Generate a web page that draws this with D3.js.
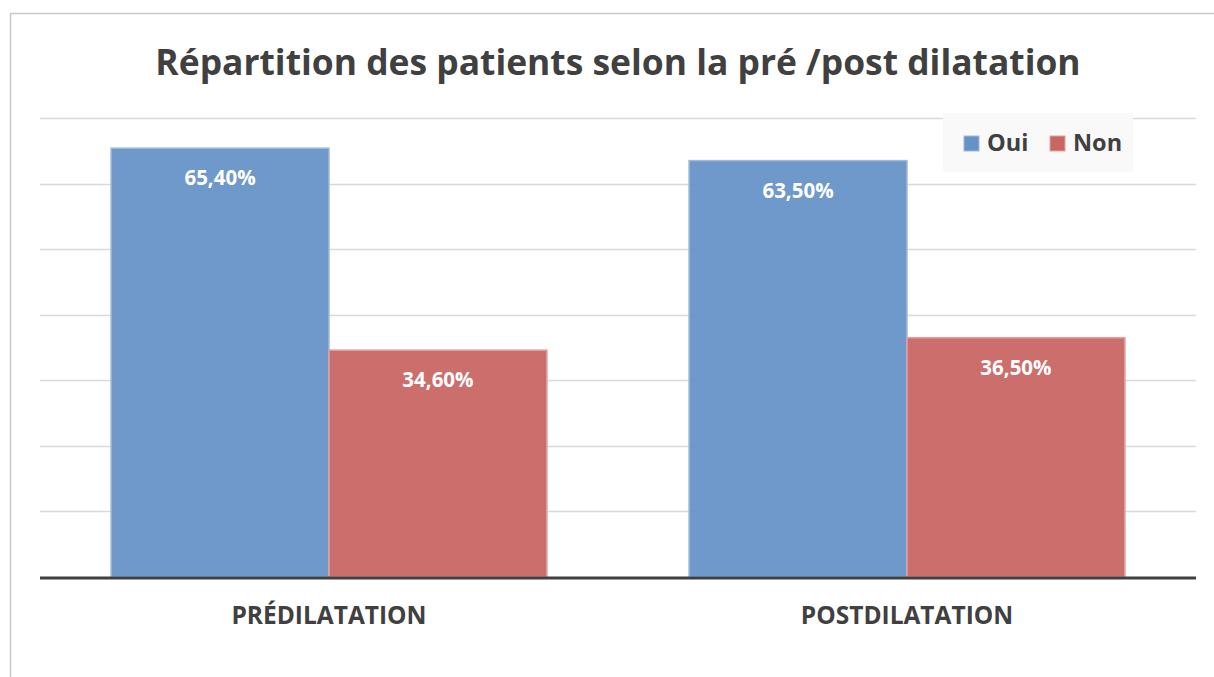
<html>
<head>
    <script src="https://cdnjs.cloudflare.com/ajax/libs/d3/7.8.5/d3.min.js"></script>
    <style>
        body { margin: 0; background: #fff; }
    </style>
</head>
<body>
    <script>
        const categories = ['PRÉDILATATION', 'POSTDILATATION'];
        const series = ['Oui', 'Non'];
        const ouiValues = [65.4, 63.5];
        const nonValues = [34.6, 36.5];
        const labels = [['65,40%', '63,50%'], ['34,60%', '36,50%']];
        const gridTicks = [0, 10, 20, 30, 40, 50, 60, 70];
        const colors = ['#6792c8', '#c96664'];

        const width = 1214, height = 677;
        const plot = { left: 40, right: 1196, top: 118, bottom: 577 };
        const font = "'Open Sans', 'Noto Sans', sans-serif";

        const svg = d3.select('body').append('svg')
            .attr('width', width)
            .attr('height', height);

        // outer frame (only left and top visible)
        svg.append('path')
            .attr('d', `M10.5,${height} L10.5,13.5 L${width},13.5`)
            .attr('fill', 'none')
            .attr('stroke', '#c8c8c8')
            .attr('stroke-width', 1.5);

        svg.append('text')
            .text('Répartition des patients selon la pré /post dilatation')
            .attr('x', 618)
            .attr('y', 75)
            .attr('text-anchor', 'middle')
            .attr('font-family', font)
            .attr('font-weight', 'bold')
            .attr('font-size', 35.4)
            .attr('fill', '#404040');

        const y = d3.scaleLinear().domain([0, 70]).range([plot.bottom, plot.top]);
        const x0 = d3.scaleBand().domain(categories).range([plot.left, plot.right]).paddingInner(0).paddingOuter(0);
        const x1 = d3.scaleBand().domain(series).range([0, x0.bandwidth()]).paddingOuter(0.326);

        // gridlines
        svg.append('g').selectAll('line')
            .data(gridTicks.slice(1))
            .enter().append('line')
            .attr('x1', plot.left).attr('x2', plot.right)
            .attr('y1', d => Math.round(y(d)) + 0.5).attr('y2', d => Math.round(y(d)) + 0.5)
            .attr('stroke', '#d9d9d9')
            .attr('stroke-width', 1.5);

        const data = [ouiValues, nonValues];
        const groups = svg.append('g').selectAll('g')
            .data(series)
            .enter().append('g');

        groups.each(function (s, si) {
            const g = d3.select(this);
            g.selectAll('rect')
                .data(categories)
                .enter().append('rect')
                .attr('x', c => x0(c) + x1(s))
                .attr('y', (c, ci) => y(data[si][ci]))
                .attr('width', x1.bandwidth())
                .attr('height', (c, ci) => plot.bottom - y(data[si][ci]))
                .attr('fill', colors[si])
                .attr('fill-opacity', 0.95)
                .attr('stroke', si === 0 ? '#9dbae0' : '#e0a3a2')
                .attr('stroke-width', 1.5);
            g.selectAll('text')
                .data(categories)
                .enter().append('text')
                .text((c, ci) => labels[si][ci])
                .attr('x', c => x0(c) + x1(s) + x1.bandwidth() / 2)
                .attr('y', (c, ci) => y(data[si][ci]) + 37)
                .attr('text-anchor', 'middle')
                .attr('font-family', font)
                .attr('font-weight', 'bold')
                .attr('font-size', 20.5)
                .attr('fill', '#fff');
        });

        // baseline
        svg.append('line')
            .attr('x1', plot.left).attr('x2', plot.right)
            .attr('y1', plot.bottom + 1).attr('y2', plot.bottom + 1)
            .attr('stroke', '#404040')
            .attr('stroke-width', 3);

        // category labels
        svg.append('g').selectAll('text')
            .data(categories)
            .enter().append('text')
            .text(d => d)
            .attr('x', d => x0(d) + x0.bandwidth() / 2)
            .attr('y', 624)
            .attr('text-anchor', 'middle')
            .attr('font-family', font)
            .attr('font-weight', 'bold')
            .attr('font-size', 24.5)
            .attr('fill', '#404040');

        // legend
        const legend = svg.append('g').attr('transform', 'translate(943,113)');
        legend.append('rect')
            .attr('width', 190).attr('height', 59)
            .attr('fill', '#f9f9f9');
        const items = legend.selectAll('g')
            .data(series)
            .enter().append('g')
            .attr('transform', (d, i) => `translate(${21 + i * 86},23)`);
        items.append('rect')
            .attr('width', 15).attr('height', 15)
            .attr('fill', (d, i) => colors[i])
            .attr('stroke', (d, i) => i === 0 ? '#9dbae0' : '#e0a3a2');
        items.append('text')
            .text(d => d)
            .attr('x', 23)
            .attr('y', 15)
            .attr('font-family', font)
            .attr('font-weight', 'bold')
            .attr('font-size', 23.5)
            .attr('fill', '#404040');
    </script>
</body>
</html>
